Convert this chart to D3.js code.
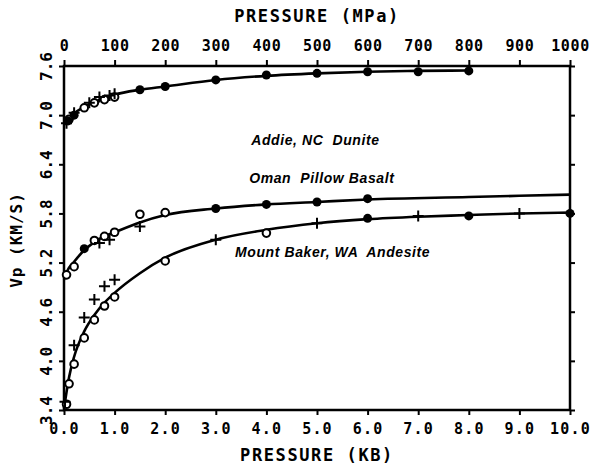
<!DOCTYPE html>
<html>
<head>
<meta charset="utf-8">
<script src="https://cdn.jsdelivr.net/npm/d3@7/dist/d3.min.js"></script>
<style>
  html, body { margin: 0; padding: 0; background: #fff; }
  svg { display: block; }
  .tick text { font-family: "DejaVu Sans Mono", monospace; font-weight: bold; fill: #000; }
  .title { font-family: "DejaVu Sans Mono", monospace; font-weight: bold; fill: #000; }
  .rock { font-family: "Liberation Sans", Arial, sans-serif; font-weight: bold; font-style: italic; fill: #000; }
</style>
</head>
<body>
<svg id="chart" width="602" height="472"></svg>
<script>
// Compressional wave velocity versus confining pressure for three rocks.
const kbTicks  = [0, 1, 2, 3, 4, 5, 6, 7, 8, 9, 10];
const mpaTicks = [0, 100, 200, 300, 400, 500, 600, 700, 800, 900, 1000];
const vpTicks  = [3.4, 4.0, 4.6, 5.2, 5.8, 6.4, 7.0, 7.6];

// Addie, NC dunite: [pressure kb, Vp km/s]
const duniteFit    = [[0,6.88],[0.1,6.96],[0.2,7.02],[0.4,7.10],[0.6,7.16],[0.8,7.21],[1.0,7.25],[1.5,7.31],[2,7.35],[3,7.43],[4,7.48],[5,7.51],[6,7.53],[7,7.54],[8,7.545]];
const duniteOpen   = [[0.1,6.95],[0.4,7.09],[0.6,7.15],[0.8,7.19],[1.0,7.22]];
const dunitePlus   = [[0.05,6.90],[0.2,7.03],[0.5,7.15],[0.7,7.22],[0.9,7.24],[1.0,7.26]];
const duniteFilled = [[0.08,6.93],[0.2,7.00],[1.5,7.31],[2,7.35],[3,7.43],[4,7.49],[5,7.51],[6,7.53],[7,7.53],[8,7.54]];

// Oman pillow basalt
const omanFit    = [[0,4.99],[0.05,5.08],[0.2,5.21],[0.4,5.35],[0.6,5.45],[0.8,5.52],[1.0,5.57],[1.5,5.69],[2,5.78],[3,5.86],[4,5.91],[5,5.94],[6,5.97],[8,6.00],[10,6.03]];
const omanOpen   = [[0.05,5.05],[0.2,5.15],[0.6,5.47],[0.8,5.52],[1.0,5.57],[1.5,5.79],[2,5.81]];
const omanPlus   = [[0.7,5.44],[0.9,5.48],[1.5,5.64]];
const omanFilled = [[0.4,5.37],[3,5.86],[4,5.91],[5,5.94],[6,5.98]];

// Mount Baker, WA andesite
const andesiteFit    = [[0,3.42],[0.05,3.62],[0.1,3.80],[0.2,4.05],[0.4,4.36],[0.6,4.56],[0.8,4.71],[1.0,4.83],[1.5,5.07],[2,5.26],[3,5.48],[4,5.60],[5,5.68],[6,5.73],[7,5.76],[8,5.78],[9,5.80],[10,5.81]];
const andesiteOpen   = [[0.05,3.47],[0.1,3.72],[0.2,3.96],[0.4,4.28],[0.6,4.50],[0.8,4.67],[1.0,4.78],[2,5.22],[4,5.56]];
const andesitePlus   = [[0.02,3.50],[0.2,4.19],[0.4,4.53],[0.6,4.75],[0.8,4.91],[1.0,4.99],[3,5.48],[5,5.68],[7,5.77],[9,5.80]];
const andesiteFilled = [[6,5.74],[8,5.77],[10,5.80]];

const rockNames = ["Addie, NC  Dunite", "Oman  Pillow Basalt", "Mount Baker, WA  Andesite"];
const labelAt   = [[3.7, 6.68], [3.66, 6.22], [3.38, 5.31]];

const svg = d3.select("#chart");
const L = 64, R = 570, T = 66, B = 410;

const x  = d3.scaleLinear().domain([0, 10]).range([L, R]);
const xm = d3.scaleLinear().domain([0, 1000]).range([L, R]);
const y  = d3.scaleLinear().domain([3.4, 7.6]).range([B, T]);

function styleAxis(g, size) {
  g.select(".domain").remove();
  g.selectAll(".tick line").attr("stroke", "#000").attr("stroke-width", 2);
  g.selectAll(".tick text").style("font-size", size + "px");
}

// bottom axis (kb)
svg.append("g").attr("transform", `translate(0,${B})`)
  .call(d3.axisBottom(x).tickValues(kbTicks).tickSize(5).tickPadding(8).tickFormat(d3.format(".1f")))
  .call(g => styleAxis(g, 15))
  .call(g => g.selectAll(".tick text").attr("letter-spacing", "1.2px"));

// top axis (MPa)
svg.append("g").attr("transform", `translate(0,${T})`)
  .call(d3.axisTop(xm).tickValues(mpaTicks).tickSize(6).tickPadding(9).tickFormat(d3.format("d")))
  .call(g => styleAxis(g, 15))
  .call(g => g.selectAll(".tick text").attr("letter-spacing", "0.6px"));

// left axis (Vp) with rotated labels
svg.append("g").attr("transform", `translate(${L},0)`)
  .call(d3.axisLeft(y).tickValues(vpTicks).tickSize(5).tickFormat(d3.format(".1f")))
  .call(g => styleAxis(g, 16))
  .call(g => g.selectAll(".tick text")
    .attr("text-anchor", "middle").attr("dy", null)
    .attr("x", 0).attr("y", 0)
    .attr("transform", "translate(-17,0) rotate(-90)")
    .attr("dominant-baseline", "middle"));

// right axis ticks only
svg.append("g").attr("transform", `translate(${R},0)`)
  .call(d3.axisRight(y).tickValues(vpTicks).tickSize(5).tickFormat(""))
  .call(g => styleAxis(g, 15));

// frame
svg.append("rect").attr("x", L).attr("y", T).attr("width", R - L).attr("height", B - T)
  .attr("fill", "none").attr("stroke", "#000").attr("stroke-width", 2.5);

// axis titles
svg.append("text").attr("class", "title").attr("x", 317).attr("y", 22)
  .attr("text-anchor", "middle").style("font-size", "17px").attr("letter-spacing", "1.6px")
  .text("PRESSURE (MPa)");
svg.append("text").attr("class", "title").attr("x", 317).attr("y", 461)
  .attr("text-anchor", "middle").style("font-size", "17px").attr("letter-spacing", "1.6px")
  .text("PRESSURE (KB)");
svg.append("text").attr("class", "title")
  .attr("transform", "translate(22,240) rotate(-90)")
  .attr("text-anchor", "middle").style("font-size", "16px").attr("letter-spacing", "1px")
  .text("Vp (KM/S)");

// fitted curves
const line = d3.line().x(d => x(d[0])).y(d => y(d[1])).curve(d3.curveMonotoneX);
[duniteFit, omanFit, andesiteFit].forEach(fit => {
  svg.append("path").datum(fit).attr("d", line)
    .attr("fill", "none").attr("stroke", "#000").attr("stroke-width", 2.6);
});

// measurements
const marks = svg.append("g");
function openCircles(data) {
  marks.selectAll(null).data(data).enter().append("circle")
    .attr("cx", d => x(d[0])).attr("cy", d => y(d[1])).attr("r", 3.8)
    .attr("fill", "#fff").attr("stroke", "#000").attr("stroke-width", 2);
}
function filledCircles(data) {
  marks.selectAll(null).data(data).enter().append("circle")
    .attr("cx", d => x(d[0])).attr("cy", d => y(d[1])).attr("r", 4.5)
    .attr("fill", "#000");
}
function pluses(data) {
  const s = 5.5;
  marks.selectAll(null).data(data).enter().append("path")
    .attr("d", d => {
      const px = x(d[0]), py = y(d[1]);
      return `M${px - s},${py}H${px + s}M${px},${py - s}V${py + s}`;
    })
    .attr("stroke", "#000").attr("stroke-width", 2).attr("fill", "none");
}
[[duniteOpen, dunitePlus, duniteFilled],
 [omanOpen, omanPlus, omanFilled],
 [andesiteOpen, andesitePlus, andesiteFilled]].forEach(([o, p, f]) => {
  openCircles(o); pluses(p); filledCircles(f);
});

// rock labels
rockNames.forEach((name, i) => {
  svg.append("text").attr("class", "rock")
    .attr("x", x(labelAt[i][0])).attr("y", y(labelAt[i][1]))
    .attr("dominant-baseline", "middle")
    .style("font-size", "14px").attr("letter-spacing", "0.6px")
    .attr("xml:space", "preserve")
    .text(name);
});
</script>
</body>
</html>
